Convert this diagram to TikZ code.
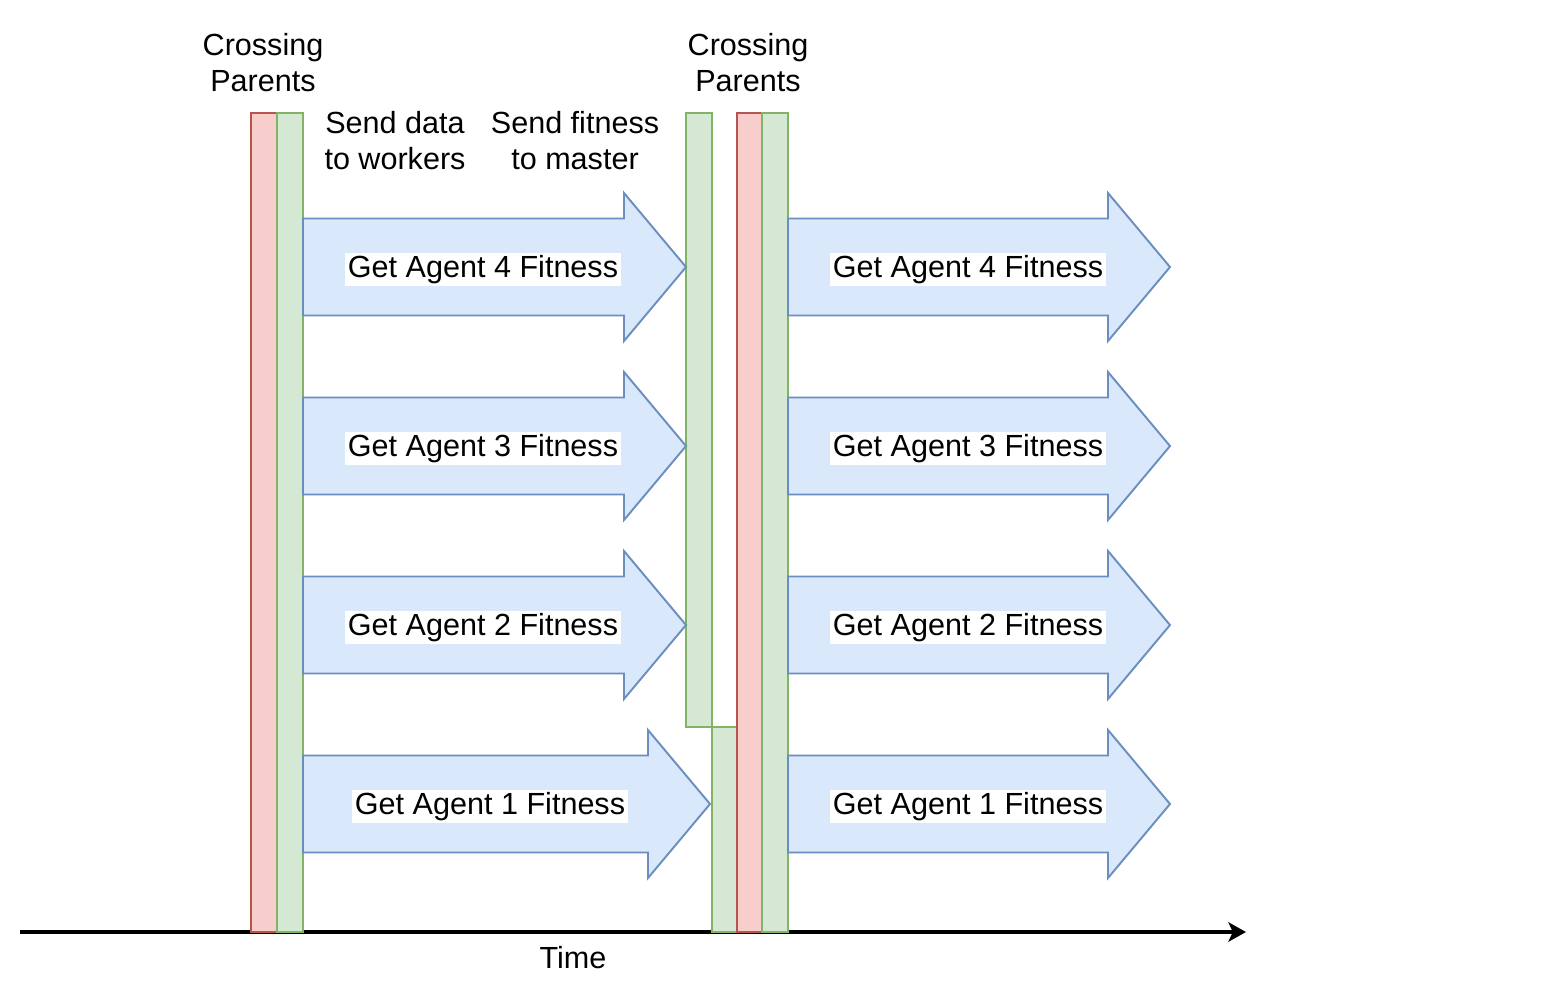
\documentclass[tikz,border=0pt]{standalone}
\usepackage{fontspec}
\setmainfont{Liberation Sans}
\usetikzlibrary{arrows.meta}
\definecolor{redfill}{HTML}{F8CECC}
\definecolor{redline}{HTML}{B85450}
\definecolor{greenfill}{HTML}{D5E8D4}
\definecolor{greenline}{HTML}{82B366}
\definecolor{bluefill}{HTML}{DAE8FC}
\definecolor{blueline}{HTML}{6C8EBF}
\tikzset{redbar/.style = {draw=redline, fill=redfill, line width=1.1pt}}
\tikzset{greenbar/.style = {draw=greenline, fill=greenfill, line width=1.1pt}}
\tikzset{fitarrow/.style = {draw=blueline, fill=bluefill, line width=1.1pt, line join=miter}}
\tikzset{fitlabel/.style = {fill=white, inner sep=1.5pt, font=\fontsize{17.4}{20.5}\selectfont}}
\tikzset{toplabel/.style = {align=center, inner sep=0, font=\fontsize{17.4}{20.5}\selectfont}}

\begin{document}
\begin{tikzpicture}[x=0.02cm, y=-0.02cm]
      \useasboundingbox (0,0) rectangle (1562,1002);

      % time axis
      \coordinate (t0) at (20,932);
      \coordinate (t1) at (1246,932);
      \draw [line width=1.9pt, -{Stealth[length=10pt, width=11pt, inset=2.5pt]}] (t0) -- (t1);
      \node [toplabel] (time) at (573,958) {Time};

      % crossing and sync bars
      \draw [redbar] (251,113) rectangle (277,932);
      \draw [greenbar] (277,113) rectangle (303,932);
      \draw [greenbar] (686,113) rectangle (712,727);
      \draw [greenbar] (712,727) rectangle (737,932);
      \draw [redbar] (737,113) rectangle (762,932);
      \draw [greenbar] (762,113) rectangle (788,932);

      % fitness arrows
      \foreach \n/\set/\tail/\tip/\yc/\lx in {4/A/303/686/267/483, 3/A/303/686/446/483, 2/A/303/686/625/483, 1/A/303/710/804/490,
                                               4/B/788/1170/267/968, 3/B/788/1170/446/968, 2/B/788/1170/625/968, 1/B/788/1170/804/968} {
        \draw [fitarrow] (\tail,\yc-48.5) -- (\tip-62,\yc-48.5) -- (\tip-62,\yc-74) -- (\tip,\yc)
          -- (\tip-62,\yc+74) -- (\tip-62,\yc+48.5) -- (\tail,\yc+48.5) -- cycle;
        \node [fitlabel] (get\set\n) at (\lx,\yc+2.5) {Get Agent \n{} Fitness};
      }

      % labels above
      \node [toplabel] (crossA) at (263,63) {Crossing\\Parents};
      \node [toplabel] (crossB) at (748,63) {Crossing\\Parents};
      \node [toplabel] (senddata) at (395,141) {Send data\\to workers};
      \node [toplabel] (sendfit) at (575,141) {Send fitness\\to master};
    \end{tikzpicture}
\end{document}
